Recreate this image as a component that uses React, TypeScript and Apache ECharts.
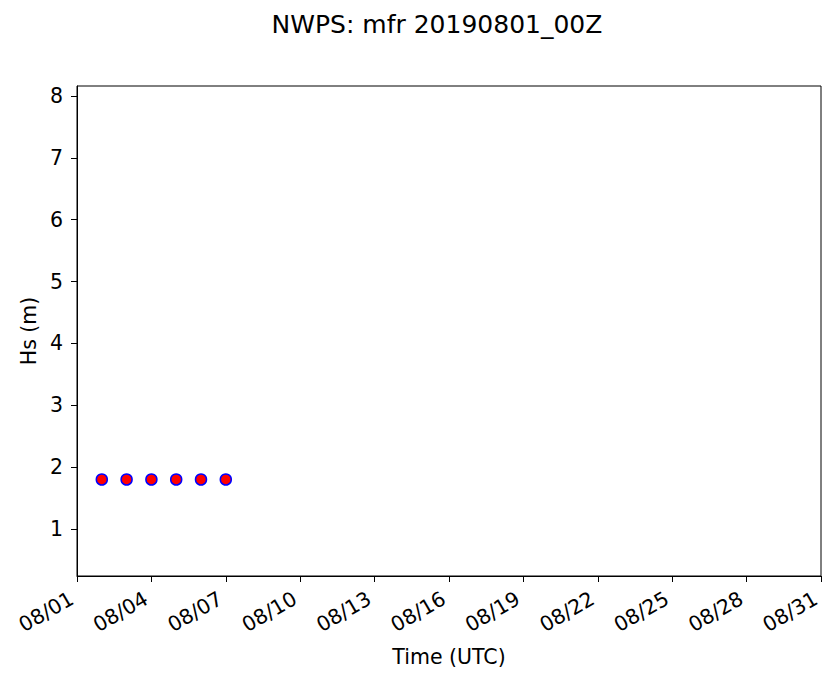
import React, { useEffect, useRef } from "react";
import * as echarts from "echarts";

const titleText = "NWPS: mfr 20190801_00Z";
const xAxisName = "Time (UTC)";
const yAxisName = "Hs (m)";
const pointDates = ["2019-08-02", "2019-08-03", "2019-08-04", "2019-08-05", "2019-08-06", "2019-08-07"];
const hsValues = [1.8, 1.8, 1.8, 1.8, 1.8, 1.8];
const xStart = "2019-08-01";
const xEnd = "2019-08-31";
const xTickDates = [
  "2019-08-01", "2019-08-04", "2019-08-07", "2019-08-10", "2019-08-13", "2019-08-16",
  "2019-08-19", "2019-08-22", "2019-08-25", "2019-08-28", "2019-08-31",
];
const yTicks = [1, 2, 3, 4, 5, 6, 7, 8];

const ts = (s: string) => Date.parse(s + "T00:00:00Z");
const pad = (n: number) => (n < 10 ? "0" + n : "" + n);

export default function App() {
  const ref = useRef<HTMLDivElement>(null);
  useEffect(() => {
    if (!ref.current) return;
    const chart = echarts.init(ref.current, undefined, { renderer: "svg" });
    const font = "DejaVu Sans";
    const fs = 20.5;
    const xTicks = xTickDates.map(ts);
    chart.setOption({
      animation: false,
      backgroundColor: "#ffffff",
      title: {
        text: titleText,
        left: 432,
        top: 7,
        textAlign: "center",
        textStyle: { fontFamily: font, fontSize: 25, fontWeight: "normal", color: "#000" },
      },
      grid: {
        left: 77,
        right: 18,
        top: 86,
        bottom: 105,
        show: true,
        borderColor: "#000",
        borderWidth: 1,
        backgroundColor: "transparent",
      },
      xAxis: {
        type: "value",
        min: ts(xStart),
        max: ts(xEnd),
        name: xAxisName,
        nameLocation: "middle",
        nameGap: 70,
        nameTextStyle: { fontFamily: font, fontSize: fs, color: "#000" },
        axisLine: { show: true, lineStyle: { color: "#000", width: 1 } },
        axisTick: {
          show: true,
          length: 6,
          lineStyle: { color: "#000", width: 1 },
          customValues: xTicks,
        },
        axisLabel: {
          rotate: 30,
          margin: 30,
          verticalAlign: "bottom",
          fontFamily: font,
          fontSize: fs,
          color: "#000",
          customValues: xTicks,
          formatter: (v: number) => {
            const d = new Date(v);
            return pad(d.getUTCMonth() + 1) + "/" + pad(d.getUTCDate());
          },
        },
        splitLine: { show: false },
      },
      yAxis: {
        type: "value",
        min: 0.24,
        max: 8.16,
        name: yAxisName,
        nameLocation: "middle",
        nameGap: 38,
        nameTextStyle: { fontFamily: font, fontSize: fs, color: "#000" },
        axisLine: { show: true, lineStyle: { color: "#000", width: 1 } },
        axisTick: {
          show: true,
          length: 6,
          lineStyle: { color: "#000", width: 1 },
          customValues: yTicks,
        },
        axisLabel: {
          margin: 14,
          fontFamily: font,
          fontSize: fs,
          color: "#000",
          customValues: yTicks,
        },
        splitLine: { show: false },
      },
      series: [
        {
          type: "scatter",
          data: pointDates.map((d, i) => [ts(d), hsValues[i]]),
          symbol: "circle",
          symbolSize: 11,
          itemStyle: { color: "#ff0000", borderColor: "#0000ff", borderWidth: 1.5, opacity: 1 },
        },
      ],
    });
    return () => chart.dispose();
  }, []);
  return (
    <div
      ref={ref}
      style={{ position: "absolute", left: 0, top: 0, width: 839, height: 681 }}
    />
  );
}
